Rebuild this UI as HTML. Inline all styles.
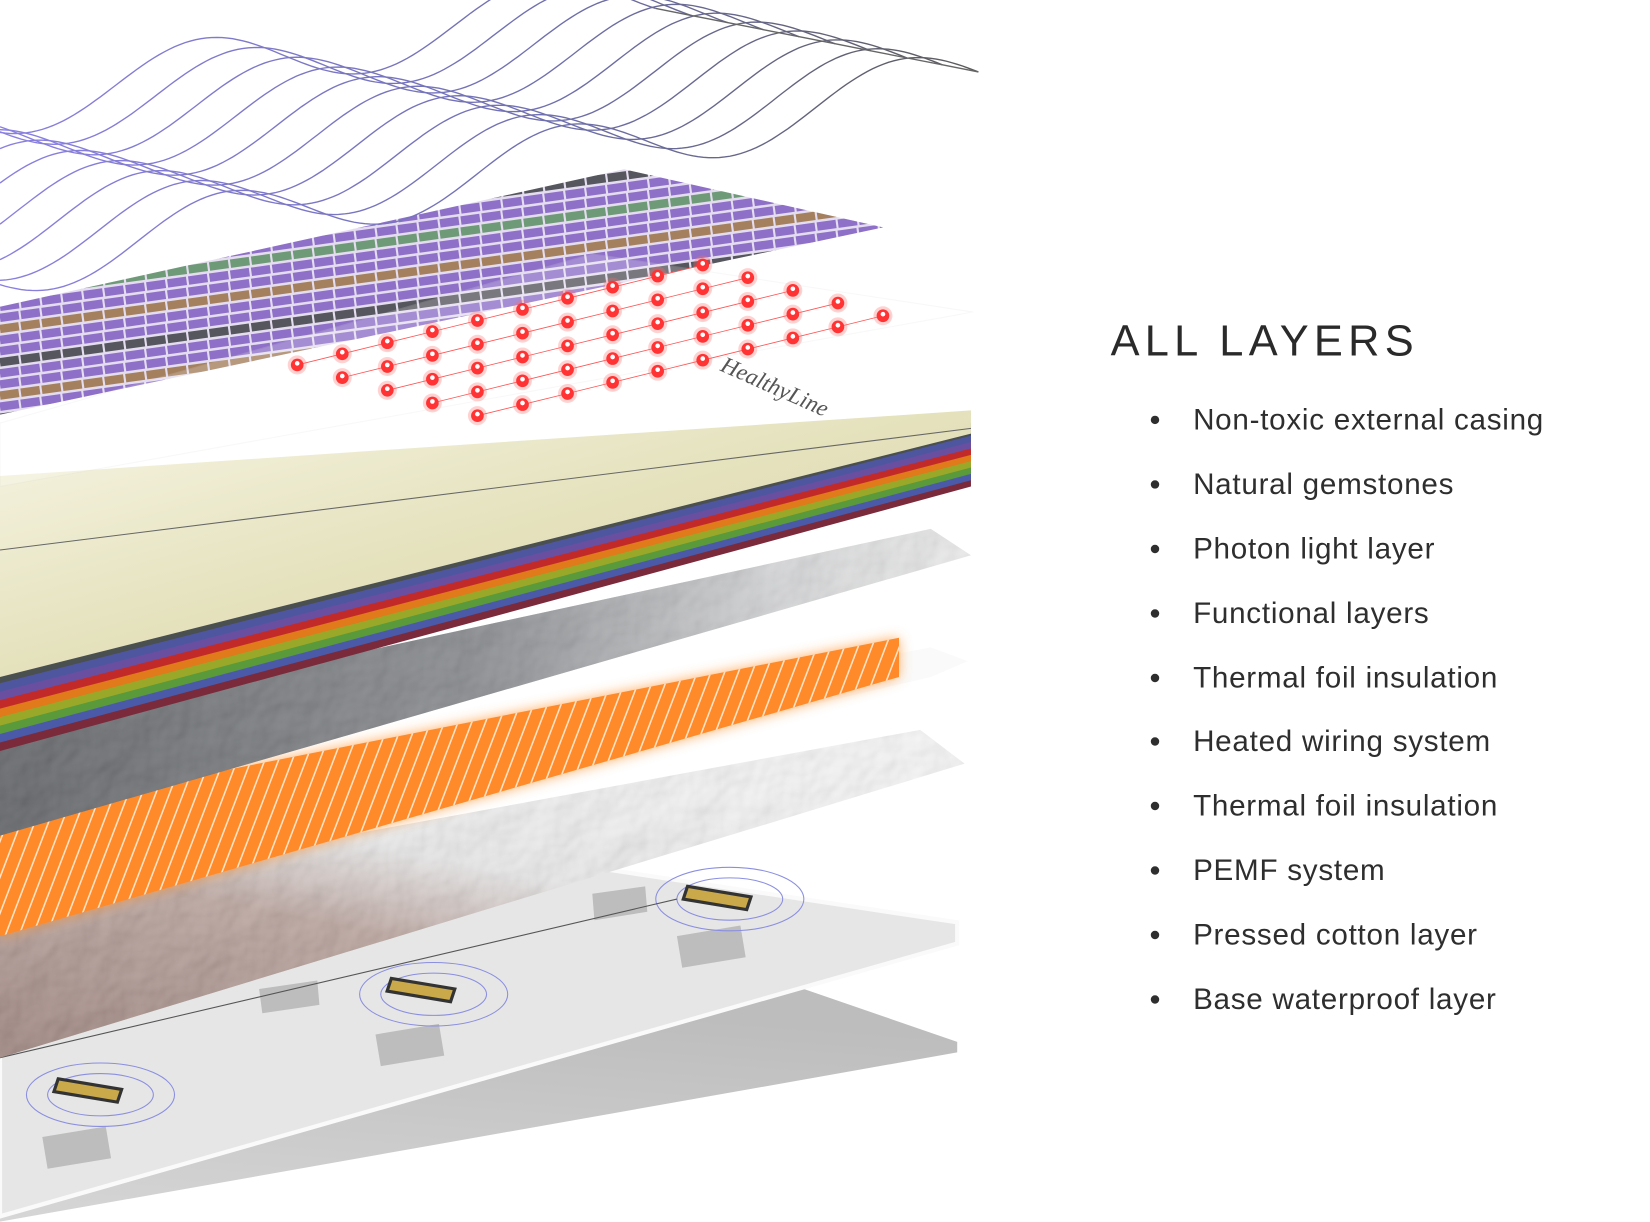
<!DOCTYPE html>
<html><head><meta charset="utf-8"><style>
html,body{margin:0;padding:0;background:#fff;width:1650px;height:1222px;overflow:hidden}
svg{display:block}
</style></head><body>
<svg width="1650" height="1222" viewBox="0 0 1560 1155.3" xmlns="http://www.w3.org/2000/svg">
<defs>
<linearGradient id="beige" x1="0" y1="0" x2="1" y2="1"><stop offset="0" stop-color="#f7f5e4"/><stop offset="0.5" stop-color="#e4e1bc"/><stop offset="1" stop-color="#dcd8ac"/></linearGradient>
<linearGradient id="foil1" x1="0" y1="0" x2="1" y2="0"><stop offset="0" stop-color="#3a3d42"/><stop offset="0.5" stop-color="#6c6f74"/><stop offset="0.8" stop-color="#c9cacc"/><stop offset="1" stop-color="#e6e6e6"/></linearGradient>
<linearGradient id="foil2" x1="0" y1="1" x2="0.6" y2="0"><stop offset="0" stop-color="#7d5c55"/><stop offset="0.45" stop-color="#a58880"/><stop offset="0.65" stop-color="#e2e2e2"/><stop offset="1" stop-color="#f3f3f3"/></linearGradient>
<linearGradient id="base" x1="0" y1="1" x2="0.3" y2="0"><stop offset="0" stop-color="#d6d6d6"/><stop offset="1" stop-color="#bdbdbd"/></linearGradient>
<linearGradient id="wg" gradientUnits="userSpaceOnUse" x1="0" y1="0" x2="925" y2="0"><stop offset="0" stop-color="#8a80e0"/><stop offset="0.55" stop-color="#7070b0"/><stop offset="1" stop-color="#5a5a5a"/></linearGradient>
<filter id="glow" x="-20%" y="-20%" width="140%" height="140%"><feGaussianBlur stdDeviation="6"/></filter>
<filter id="tex"><feTurbulence type="fractalNoise" baseFrequency="0.03" numOctaves="3" seed="4"/><feDiffuseLighting lighting-color="#fff" surfaceScale="3"><feDistantLight azimuth="45" elevation="50"/></feDiffuseLighting><feComposite in2="SourceGraphic" operator="in"/></filter>
<clipPath id="gemclip"><polygon points="0,290 590,160 835,215 0,392"/></clipPath>
<clipPath id="orclip"><polygon points="0,770 850,603 850,640 0,885"/></clipPath>
</defs>

<polygon points="0,1098 760,935 905,985 905,995 0,1155" fill="url(#base)"/>
<polygon points="0,985 560,820 905,872 905,892 0,1150" fill="#e6e6e6" stroke="#fafafa" stroke-width="4"/>
<g fill="#bdbdbd">
<polygon points="640,885 700,875 705,905 645,915"/><polygon points="355,978 415,968 420,998 360,1008"/><polygon points="40,1075 100,1065 105,1095 45,1105"/>
<polygon points="560,845 610,838 612,862 562,870"/><polygon points="245,935 300,927 302,950 248,958"/>
</g>
<g fill="none" stroke="#8a8ee0" stroke-width="1">
<ellipse cx="690" cy="850" rx="70" ry="30"/><ellipse cx="690" cy="850" rx="50" ry="20"/>
<ellipse cx="410" cy="940" rx="70" ry="30"/><ellipse cx="410" cy="940" rx="50" ry="20"/>
<ellipse cx="95" cy="1035" rx="70" ry="30"/><ellipse cx="95" cy="1035" rx="50" ry="20"/>
</g>
<g fill="#c9a94a" stroke="#333" stroke-width="3">
<polygon points="650,838 710,848 706,860 646,850"/><polygon points="370,925 430,935 426,947 366,937"/><polygon points="55,1020 115,1030 111,1042 51,1032"/>
</g>
<line x1="0" y1="1000" x2="640" y2="850" stroke="#555" stroke-width="1"/>
<polygon points="0,850 870,690 912,722 0,1000" fill="url(#foil2)"/>
<polygon points="0,850 870,690 912,722 0,1000" fill="#fff" filter="url(#tex)" opacity="0.35"/>
<polygon points="200,740 880,612 915,625 880,640 200,800" fill="#f6f6f6" opacity="0.6"/>
<polygon points="0,770 850,603 850,640 0,885" fill="#ff9a3c" filter="url(#glow)" opacity="0.8"/>
<polygon points="0,770 850,603 850,640 0,885" fill="#ff8a2a"/>
<g clip-path="url(#orclip)" stroke="#ffe2c4" stroke-width="1.5" id="wires"></g>
<polygon points="0,690 880,500 918,525 0,790" fill="url(#foil1)"/>
<polygon points="0,690 880,500 918,525 0,790" fill="#fff" filter="url(#tex)" opacity="0.3"/>
<g id="stripes"></g>
<polygon points="0,450 918,388 918,410 0,640" fill="url(#beige)"/>
<line x1="0" y1="520" x2="918" y2="405" stroke="#666" stroke-width="1"/>
<polygon points="0,290 590,160 835,215 0,392" fill="#e4dcef"/>
<g clip-path="url(#gemclip)" id="gems"></g>
<polygon points="0,400 560,240 920,295 0,460" fill="#ffffff" opacity="0.2" stroke="#ddd" stroke-width="1"/>
<polygon points="440,405 920,295 910,310 450,415" fill="#ffffff" opacity="0.6"/>
<g id="dots"></g>
<text x="0" y="0" transform="translate(680,350) rotate(24)" font-family="Liberation Serif, serif" font-style="italic" font-size="22" fill="#555">HealthyLine</text>
<g id="waves" fill="none" stroke="url(#wg)" stroke-width="1.3"></g>

<text x="1050" y="336" font-family="Liberation Sans, sans-serif" font-size="41" letter-spacing="5" fill="#2a2a2a">ALL LAYERS</text>
<g font-family="Liberation Sans, sans-serif" font-size="28" fill="#2e2e2e" letter-spacing="0.7">
<text x="1128" y="406">Non-toxic external casing</text>
<text x="1128" y="467">Natural gemstones</text>
<text x="1128" y="528">Photon light layer</text>
<text x="1128" y="589">Functional layers</text>
<text x="1128" y="650">Thermal foil insulation</text>
<text x="1128" y="710">Heated wiring system</text>
<text x="1128" y="771">Thermal foil insulation</text>
<text x="1128" y="832">PEMF system</text>
<text x="1128" y="893">Pressed cotton layer</text>
<text x="1128" y="954">Base waterproof layer</text>
</g>
<g fill="#2e2e2e">
<circle cx="1092" cy="397" r="4"/><circle cx="1092" cy="458" r="4"/><circle cx="1092" cy="519" r="4"/><circle cx="1092" cy="580" r="4"/><circle cx="1092" cy="641" r="4"/><circle cx="1092" cy="701" r="4"/><circle cx="1092" cy="762" r="4"/><circle cx="1092" cy="823" r="4"/><circle cx="1092" cy="884" r="4"/><circle cx="1092" cy="945" r="4"/>
</g>
</svg>
<script>
var NS="http://www.w3.org/2000/svg";
function el(p,t,a){var e=document.createElementNS(NS,t);for(var k in a)e.setAttribute(k,a[k]);p.appendChild(e);return e;}
var cols=["#4a4f4f","#4f56a0","#6a4fa0","#c22a2a","#e07a1a","#9aa82a","#5a9a3a","#4a5aa8","#7a2a3a"];
var st=document.getElementById("stripes");
for(var i=cols.length-1;i>=0;i--){el(st,"polygon",{points:"0,"+(630+i*8)+" 918,"+(400+i*6)+" 918,"+(412+i*6)+" 0,"+(646+i*8),fill:cols[i]});}
var g=document.getElementById("gems");var gc=["#8e70c8","#8e70c8","#a5805e","#8e70c8","#8e70c8","#56565e","#8e70c8","#8e70c8","#a5805e","#8e70c8","#56565e","#8e70c8","#8e70c8","#6f9a78"];
for(var i=-14;i<26;i++){var y=250+i*10.5;var c=gc[(i+28)%gc.length];el(g,"line",{x1:0,y1:y+40,x2:900,y2:y-85,stroke:c,"stroke-width":8,"stroke-dasharray":"18 2"});}
var w=document.getElementById("wires");
for(var i=0;i<70;i++){var x=-40+i*13;el(w,"line",{x1:x,y1:900,x2:x+130,y2:560});}
var d=document.getElementById("dots");
for(var i=0;i<10;i++)for(var j=0;j<5;j++){var x=281+i*42.6+j*42.6,y=345-i*10.5+j*12;
if(i<9)el(d,"line",{x1:x,y1:y,x2:x+42.6,y2:y-10.5,stroke:"#f55","stroke-width":0.8});
el(d,"circle",{cx:x,cy:y,r:9,fill:"#ff6a6a",opacity:0.3});el(d,"circle",{cx:x,cy:y,r:6,fill:"#f33"});el(d,"circle",{cx:x,cy:y-1.5,r:2.2,fill:"#fff"});}
var wv=document.getElementById("waves");var ends=[];var N=10;
for(var k=0;k<N;k++){var xe=620+k*(305/(N-1));var ye=8+k*(60/(N-1));var y0=100+k*17;
function sn(x){return 30*Math.sin(2*Math.PI*(x-38*k)/320+1.0);}
var s=(y0+sn(xe)-ye)/xe;var pts=[];
for(var x=0;x<=xe;x+=5){pts.push(x+","+(y0-s*x+sn(x)).toFixed(1));}
pts.push(xe+","+ye.toFixed(1));ends.push(xe.toFixed(1)+","+ye.toFixed(1));
el(wv,"polyline",{points:pts.join(" ")});}
el(wv,"polyline",{points:ends.join(" "),stroke:"#666"});
</script>
</body></html>
